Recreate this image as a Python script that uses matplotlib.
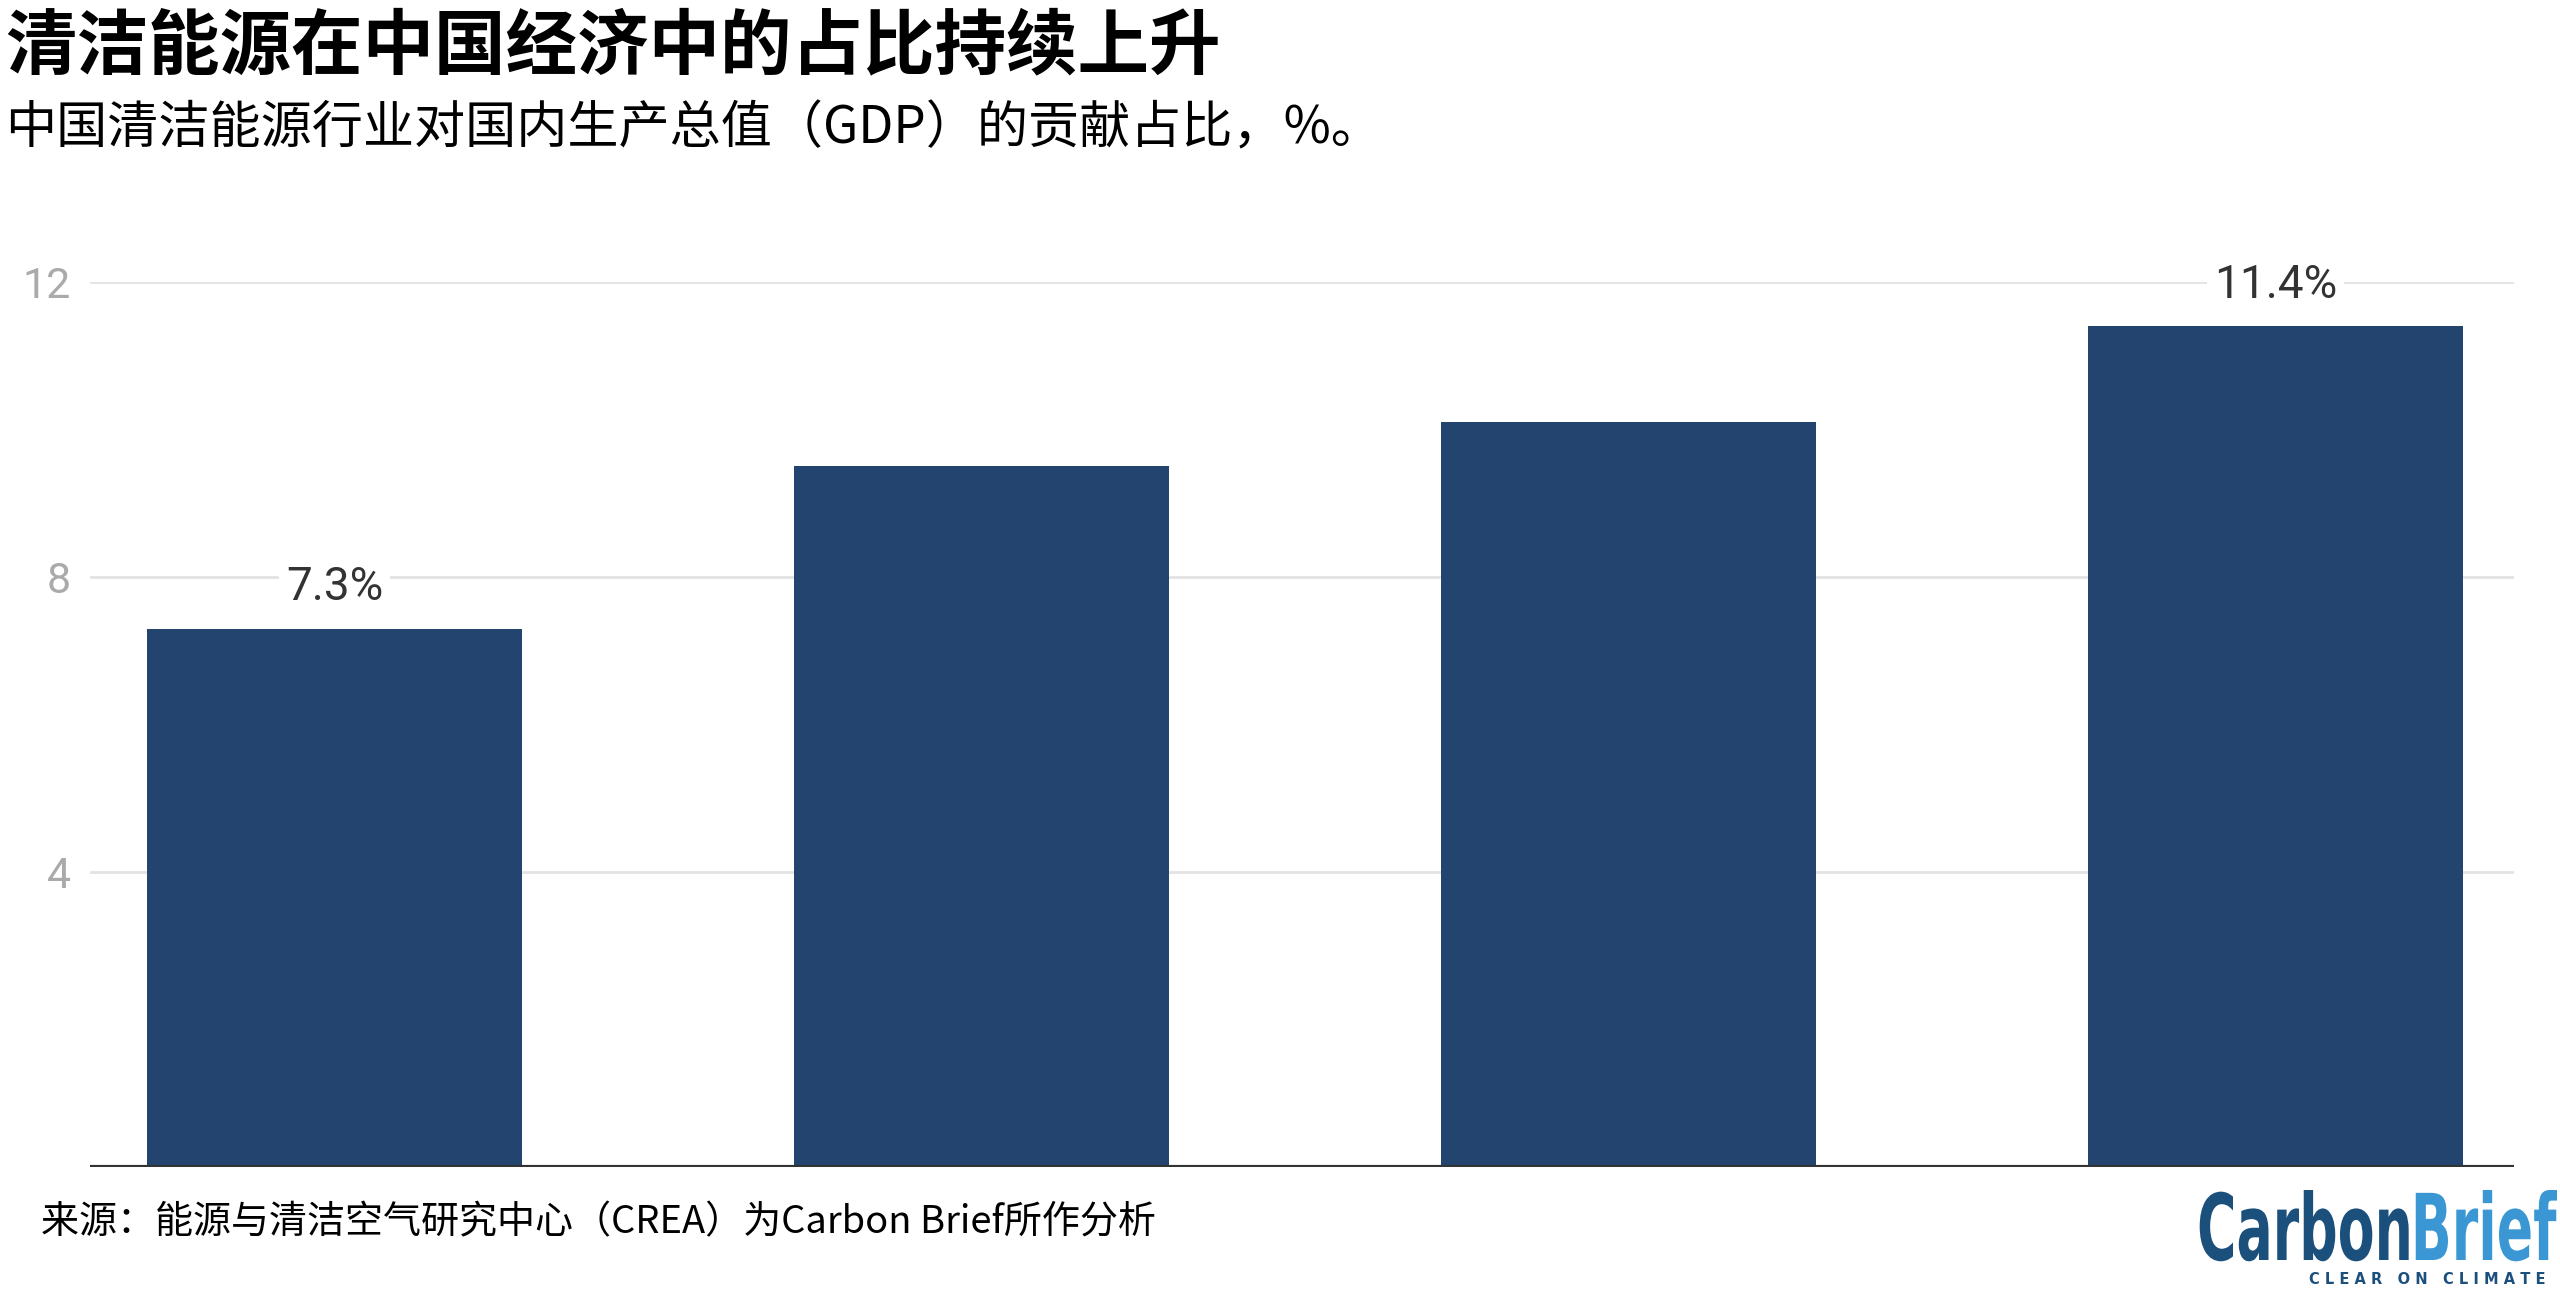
import matplotlib
matplotlib.use("Agg")
import matplotlib.pyplot as plt
import numpy as np
from matplotlib.textpath import TextPath
from matplotlib.font_manager import FontProperties
from matplotlib.patches import PathPatch
from matplotlib.transforms import Affine2D, IdentityTransform

# data
values = [7.3, 9.5, 10.1, 11.4]
bar_labels = ["7.3%", "", "", "11.4%"]
y_ticks = [4, 8, 12]

title = "清洁能源在中国经济中的占比持续上升"
subtitle = "中国清洁能源行业对国内生产总值（GDP）的贡献占比，%。"
source = "来源：能源与清洁空气研究中心（CREA）为Carbon Brief所作分析"

CJK = ["Noto Sans CJK SC", "DejaVu Sans"]
NUM = ["Roboto", "DejaVu Sans"]
BAR_COLOR = "#22446e"

W, H = 2560, 1297
fig = plt.figure(figsize=(W / 100, H / 100), dpi=100)
ax = fig.add_axes([0.0352, 0.1002, 0.9468, 0.6824])

x = np.arange(len(values))
ax.bar(x, values, width=0.58, color=BAR_COLOR, zorder=3)

for xi, v, lab in zip(x, values, bar_labels):
    if lab:
        ax.annotate(lab, (xi, v), xytext=(0, 14), textcoords="offset points",
                    ha="center", va="bottom", fontsize=33, color="#333333",
                    family=NUM, zorder=4,
                    bbox=dict(boxstyle="square,pad=0.15", fc="white", ec="none"))

ax.set_xlim(-0.378, 3.368)
ax.set_ylim(0, 12)
ax.set_yticks(y_ticks)
ax.set_yticklabels([str(t) for t in y_ticks], family=NUM, fontsize=31, color="#aaaaaa")
ax.set_xticks([])
ax.tick_params(axis="y", length=0, pad=14)
ax.grid(axis="y", color="#e3e3e3", lw=2, zorder=0)
ax.axhline(0, color="#333333", lw=3, zorder=4)
for s in ax.spines.values():
    s.set_visible(False)

fig.text(0.002, 0.9638, title, family=CJK, fontsize=51.5, fontweight="bold",
         ha="left", va="center", color="black")
fig.text(0.002, 0.9005, subtitle, family=CJK, fontsize=36.8,
         ha="left", va="center", color="black")
fig.text(0.016, 0.0571, source, family=CJK, fontsize=27.4,
         ha="left", va="center", color="black")

# logo: condensed bold wordmark drawn as paths (pixel coords, origin bottom-left)
fp = FontProperties(family="DejaVu Sans", weight="bold")
p1 = TextPath((0, 0), "Carbon", size=100, prop=fp)
p2 = TextPath((0, 0), "Brief", size=100, prop=fp)
e1, e2 = p1.get_extents(), p2.get_extents()
gap = 4
total_w = e1.x1 + gap + e2.x1
ink_h = max(e1.y1, e2.y1)
logo_x0, logo_x1 = 2197, 2557
logo_top, logo_bot = 1190, 1260
sx = (logo_x1 - logo_x0) / total_w
sy = (logo_bot - logo_top) / ink_h
base_y = H - logo_bot
tr1 = Affine2D().scale(sx, sy).translate(logo_x0, base_y)
tr2 = Affine2D().scale(sx, sy).translate(logo_x0 + (e1.x1 + gap) * sx, base_y)
for p, tr, c in ((p1, tr1, "#1b4f7c"), (p2, tr2, "#3b97d3")):
    fig.patches.append(PathPatch(tr.transform_path(p), fc=c, ec="none",
                                 transform=IdentityTransform(), figure=fig))
tagline = "   ".join(" ".join(list(w)) for w in ["CLEAR", "ON", "CLIMATE"])
fig.text(0.9945, (H - 1279) / H, tagline, family="DejaVu Sans",
         fontsize=10.5, fontweight="bold", color="#1b4f7c", ha="right", va="center")

fig.savefig("out.png", dpi=100)
